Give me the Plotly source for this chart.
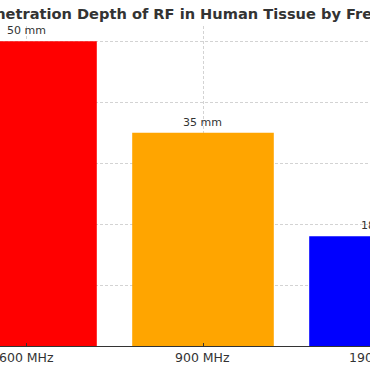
import plotly.graph_objects as go

categories = ["600 MHz", "900 MHz", "1900 MHz"]
depth_mm = [50, 35, 18]
labels = ["50 mm", "35 mm", "18 mm"]
colors = ["red", "orange", "blue"]

W, H = 370, 370
X_MIN, X_MAX = -26 / 177, (370 - 26) / 177  # visible window of the category axis

def to_paper(i):
    return (i - X_MIN) / (X_MAX - X_MIN)

fig = go.Figure()
fig.add_trace(go.Bar(
    x=list(range(len(categories))), y=depth_mm,
    marker=dict(color=colors, line=dict(width=0)),
    width=0.8, showlegend=False,
))
for i, (v, t) in enumerate(zip(depth_mm, labels)):
    fig.add_annotation(xref="paper", yref="y", x=to_paper(i), y=v, text=t,
                       showarrow=False, yanchor="bottom", xanchor="center", yshift=2,
                       font=dict(family="DejaVu Sans", size=11, color="#333"))
for i, c in enumerate(categories):
    fig.add_annotation(xref="paper", yref="paper", x=to_paper(i), y=0, text=c,
                       showarrow=False, yanchor="top", xanchor="center", yshift=-2,
                       font=dict(family="DejaVu Sans", size=12.5, color="#333"))

fig.update_layout(
    width=W, height=H,
    margin=dict(l=0, r=0, t=26, b=24),
    plot_bgcolor="white", paper_bgcolor="white",
    title=dict(text="<b>Penetration Depth of RF in Human Tissue by Frequency</b>",
               x=203 / W, xanchor="center", y=1 - 14 / H, yanchor="middle",
               font=dict(family="DejaVu Sans", size=14.6, color="#333")),
    font=dict(family="DejaVu Sans", color="#333"),
)
fig.update_xaxes(
    range=[X_MIN, X_MAX],
    tickmode="array", tickvals=list(range(len(categories))), ticktext=[""] * len(categories),
    showgrid=True, gridcolor="rgba(175,175,175,0.55)", griddash="3px,2px", gridwidth=1,
    showline=True, linecolor="#333", linewidth=1,
    ticks="inside", ticklen=3, tickcolor="#333",
    layer="above traces", zeroline=False,
)
fig.update_yaxes(
    range=[0, 52.5], tickvals=[10, 20, 30, 40, 50],
    showticklabels=False,
    showgrid=True, gridcolor="rgba(175,175,175,0.55)", griddash="3px,2px", gridwidth=1,
    layer="above traces", zeroline=False, showline=False,
)
fig.write_html("out.html", config={"displayModeBar": False},
               post_script="document.body.style.margin='0';document.body.style.overflow='hidden';")
